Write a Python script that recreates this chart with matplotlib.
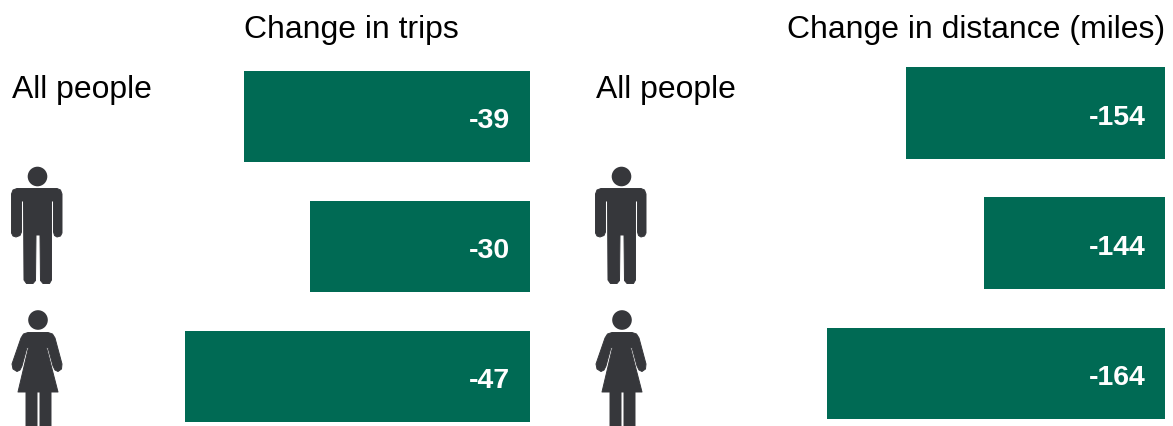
import matplotlib
matplotlib.use("Agg")
import matplotlib.pyplot as plt
from matplotlib.patches import Circle, Polygon

plt.rcParams["font.family"] = ["Liberation Sans", "DejaVu Sans"]

W, H = 1173, 426
GREEN = "#006a54"
DARK = "#36373b"

groups = ["All people", "Men", "Women"]
trip_change = [-39, -30, -47]
distance_change = [-154, -144, -164]
trip_title = "Change in trips"
distance_title = "Change in distance (miles)"

fig = plt.figure(figsize=(W / 100, H / 100), dpi=100, facecolor="white")


def panel(left, right, top, bottom, xlim):
    ax = fig.add_axes([left / W, 1 - bottom / H, (right - left) / W, (bottom - top) / H])
    ax.set_xlim(*xlim)
    ax.set_ylim(2.5, -0.5)
    ax.axis("off")
    return ax


def bars(ax, values, label_inset, label_drop):
    ax.barh(range(len(values)), values, height=0.705, color=GREEN)
    for i, v in enumerate(values):
        ax.annotate(str(v), xy=(1, i), xycoords=ax.get_yaxis_transform(),
                    xytext=(-label_inset, -label_drop), textcoords="offset pixels",
                    ha="right", va="center", color="white",
                    fontsize=20.5, fontweight="bold", family="Liberation Sans")


# Trips run from zero; the distance axis starts near -121 miles.
trips_ax = panel(150, 530, 51.5, 441.5, (-380 / 7.33, 0))
dist_ax = panel(790, 1165, 48, 438.5, (-121 - 375 / 7.85, -121))
bars(trips_ax, trip_change, 19.5, 4.5)
bars(dist_ax, distance_change, 19, 4.5)

# Overlay in pixel units for headings and pictograms.
over = fig.add_axes([0, 0, 1, 1])
over.set_xlim(0, W)
over.set_ylim(H, 0)
over.axis("off")
over.patch.set_alpha(0)

over.text(351, 30, trip_title, fontsize=22.95, ha="center", va="center", color="black")
over.text(976, 30, distance_title, fontsize=22.95, ha="center", va="center", color="black")


def shape(points):
    over.add_patch(Polygon(points, closed=True, facecolor=DARK, edgecolor=DARK,
                           lw=0.7, joinstyle="round"))


def man(dx):
    over.add_patch(Circle((37.5 + dx, 176.5), 9.8, color=DARK, lw=0))
    shape([(x + dx, y) for x, y in [
        (17, 188.5), (57, 188.5), (60.5, 190), (62, 194), (62, 233), (60.5, 236), (57, 237),
        (54.5, 235.5), (53.5, 232), (53.5, 201), (51.5, 201), (51.5, 280), (49.5, 283.5),
        (43, 283.5), (40.5, 280.5), (40, 235), (36, 235), (35.5, 280.5), (33, 283.5),
        (26.5, 283.5), (24, 280), (23.5, 201), (21.5, 201), (21.5, 232), (20, 235.5),
        (16, 237), (13, 236), (11.5, 233), (11.5, 194), (13, 190)]])


def woman(dx):
    over.add_patch(Circle((38 + dx, 320), 9.8, color=DARK, lw=0))
    shape([(x + dx, y) for x, y in [
        (28, 332.5), (48, 332.5), (52.5, 334), (55, 338), (62, 364), (61.5, 369), (58, 371.5),
        (55, 370), (53, 366), (48, 347.5), (46.5, 347.5), (58, 392), (51, 392), (51, 430),
        (40, 430), (40, 392), (37, 392), (37, 430), (26, 430), (26, 392),
        (18, 392), (28.5, 347.5), (27, 347.5), (22, 366), (20, 370), (17, 371.5),
        (13, 369), (12, 364), (21, 338), (23.5, 334)]])


for dx, label in ((0, 12), (584, 596)):
    over.text(label, 90, groups[0], fontsize=22.95, ha="left", va="center", color="black")
    man(dx)
    woman(dx)

fig.savefig("out.png", dpi=100, facecolor="white")
